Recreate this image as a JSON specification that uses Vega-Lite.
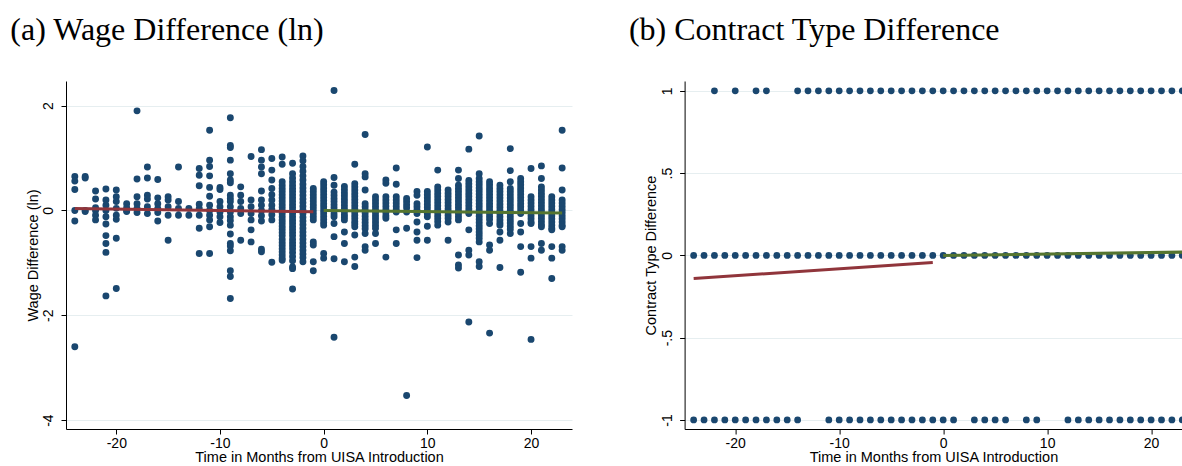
{
"$schema": "https://vega.github.io/schema/vega-lite/v6.json",
"padding": {"left": 10, "top": 14, "right": 0, "bottom": 0},
"autosize": {"type": "pad"},
"background": "white",
"bounds": "flush",
"spacing": 112.6,
"config": {
  "view": {"stroke": null},
  "axis": {"labelFont": "Liberation Sans", "titleFont": "Liberation Sans", "labelFontSize": 14, "titleFontSize": 14.5, "labelColor": "#000", "titleColor": "#000", "titleFontWeight": "normal", "domainColor": "#000", "domainWidth": 1, "tickColor": "#000", "tickSize": 5, "tickWidth": 1, "gridColor": "#e6eef0", "gridWidth": 1, "labelFlush": false},
  "title": {"font": "Liberation Serif", "fontSize": 32, "fontWeight": "normal", "anchor": "start", "frame": "group", "color": "#000", "dx": -55.7, "offset": 34, "baseline": "alphabetic"}
},
"datasets": {
"wage": [
{"t":-24,"w":0.65},{"t":-24,"w":0.56},{"t":-24,"w":0.40},{"t":-24,"w":0},{"t":-24,"w":-0.20},{"t":-24,"w":-2.60},
{"t":-23,"w":0.65},{"t":-23,"w":0.62},{"t":-23,"w":0},{"t":-23,"w":-0.02},
{"t":-22,"w":0.37},{"t":-22,"w":0.22},{"t":-22,"w":0.05},{"t":-22,"w":0},{"t":-22,"w":-0.09},{"t":-22,"w":-0.18},
{"t":-21,"w":0.41},{"t":-21,"w":0.20},{"t":-21,"w":0.10},{"t":-21,"w":0},{"t":-21,"w":-0.12},{"t":-21,"w":-0.26},{"t":-21,"w":-0.48},{"t":-21,"w":-0.63},{"t":-21,"w":-0.80},{"t":-21,"w":-1.63},
{"t":-20,"w":0.39},{"t":-20,"w":0.26},{"t":-20,"w":0.17},{"t":-20,"w":0.04},{"t":-20,"w":-0.09},{"t":-20,"w":-0.17},{"t":-20,"w":-0.53},{"t":-20,"w":-1.49},
{"t":-19,"w":0.13},{"t":-19,"w":0.05},{"t":-19,"w":0},{"t":-19,"w":-0.02},
{"t":-18,"w":1.90},{"t":-18,"w":0.60},{"t":-18,"w":0.26},{"t":-18,"w":0.13},{"t":-18,"w":0.04},{"t":-18,"w":-0.04},
{"t":-17,"w":0.83},{"t":-17,"w":0.62},{"t":-17,"w":0.29},{"t":-17,"w":0.22},{"t":-17,"w":0.07},{"t":-17,"w":-0.06},
{"t":-16,"w":0.59},{"t":-16,"w":0.24},{"t":-16,"w":0.13},{"t":-16,"w":0.04},{"t":-16,"w":-0.04},{"t":-16,"w":-0.20},
{"t":-15,"w":0.26},{"t":-15,"w":0.20},{"t":-15,"w":0.07},{"t":-15,"w":-0.09},{"t":-15,"w":-0.57},
{"t":-14,"w":0.83},{"t":-14,"w":0.17},{"t":-14,"w":0.04},{"t":-14,"w":-0.09},
{"t":-13,"w":0.04},{"t":-13,"w":-0.09},
{"t":-12,"w":0.80},{"t":-12,"w":0.67},{"t":-12,"w":0.47},{"t":-12,"w":0.12},{"t":-12,"w":0.04},{"t":-12,"w":-0.09},{"t":-12,"w":-0.34},{"t":-12,"w":-0.82},
{"t":-11,"w":1.53},{"t":-11,"w":0.96},{"t":-11,"w":0.84},{"t":-11,"w":0.66},{"t":-11,"w":0.44},{"t":-11,"w":0.27},{"t":-11,"w":0.10},{"t":-11,"w":0},{"t":-11,"w":-0.09},{"t":-11,"w":-0.18},{"t":-11,"w":-0.31},{"t":-11,"w":-0.82},
{"t":-10,"w":0.44},{"t":-10,"w":0.40},{"t":-10,"w":0.17},{"t":-10,"w":0.07},{"t":-10,"w":-0.03},{"t":-10,"w":-0.12},{"t":-10,"w":-0.23},
{"t":-9,"w":1.77},{"t":-9,"w":1.24},{"t":-9,"w":1.20},{"t":-9,"w":0.96},{"t":-9,"w":0.70},{"t":-9,"w":0.58},{"t":-9,"w":0.53},{"t":-9,"w":0.29},{"t":-9,"w":0.23},{"t":-9,"w":0.17},{"t":-9,"w":0.07},{"t":-9,"w":-0.03},{"t":-9,"w":-0.12},{"t":-9,"w":-0.19},{"t":-9,"w":-0.28},{"t":-9,"w":-0.45},{"t":-9,"w":-0.63},{"t":-9,"w":-0.68},{"t":-9,"w":-0.77},{"t":-9,"w":-1.15},{"t":-9,"w":-1.26},{"t":-9,"w":-1.68},
{"t":-8,"w":0.45},{"t":-8,"w":0.29},{"t":-8,"w":0.17},{"t":-8,"w":0.04},{"t":-8,"w":-0.06},{"t":-8,"w":-0.57},
{"t":-7,"w":1.03},{"t":-7,"w":0.20},{"t":-7,"w":0.07},{"t":-7,"w":-0.06},{"t":-7,"w":-0.18},{"t":-7,"w":-0.37},{"t":-7,"w":-0.60},
{"t":-6,"w":1.16},{"t":-6,"w":0.96},{"t":-6,"w":0.83},{"t":-6,"w":0.70},{"t":-6,"w":0.37},{"t":-6,"w":0.20},{"t":-6,"w":0.10},{"t":-6,"w":0},{"t":-6,"w":-0.10},{"t":-6,"w":-0.20},{"t":-6,"w":-0.74},{"t":-6,"w":-0.79},
{"t":-5,"w":0.99},{"t":-5,"w":0.77},{"t":-5,"w":0.58},{"t":-5,"w":0.42},{"t":-5,"w":0.30},{"t":-5,"w":0.20},{"t":-5,"w":0.10},{"t":-5,"w":0.02},{"t":-5,"w":-0.08},{"t":-5,"w":-0.18},{"t":-5,"w":-0.99},
{"t":-4,"w":1.02},{"t":-4,"w":0.88},{"t":-4,"w":0.55},{"t":-4,"w":0.48},{"t":-4,"w":0.42},{"t":-4,"w":0.36},{"t":-4,"w":0.30},{"t":-4,"w":0.24},{"t":-4,"w":0.18},{"t":-4,"w":0.12},{"t":-4,"w":0.06},{"t":-4,"w":0},{"t":-4,"w":-0.06},{"t":-4,"w":-0.12},{"t":-4,"w":-0.18},{"t":-4,"w":-0.24},{"t":-4,"w":-0.30},{"t":-4,"w":-0.36},{"t":-4,"w":-0.42},{"t":-4,"w":-0.48},{"t":-4,"w":-0.55},{"t":-4,"w":-0.61},{"t":-4,"w":-0.67},{"t":-4,"w":-0.73},{"t":-4,"w":-0.79},{"t":-4,"w":-0.85},{"t":-4,"w":-0.91},{"t":-4,"w":-0.95},
{"t":-3,"w":0.90},{"t":-3,"w":0.70},{"t":-3,"w":0.62},{"t":-3,"w":0.55},{"t":-3,"w":0.48},{"t":-3,"w":0.42},{"t":-3,"w":0.36},{"t":-3,"w":0.30},{"t":-3,"w":0.24},{"t":-3,"w":0.18},{"t":-3,"w":0.12},{"t":-3,"w":0.06},{"t":-3,"w":0},{"t":-3,"w":-0.06},{"t":-3,"w":-0.12},{"t":-3,"w":-0.18},{"t":-3,"w":-0.24},{"t":-3,"w":-0.30},{"t":-3,"w":-0.36},{"t":-3,"w":-0.42},{"t":-3,"w":-0.48},{"t":-3,"w":-0.55},{"t":-3,"w":-0.61},{"t":-3,"w":-0.67},{"t":-3,"w":-0.73},{"t":-3,"w":-0.80},{"t":-3,"w":-0.88},{"t":-3,"w":-0.96},{"t":-3,"w":-1.08},{"t":-3,"w":-1.11},{"t":-3,"w":-1.50},
{"t":-2,"w":1.04},{"t":-2,"w":0.95},{"t":-2,"w":0.84},{"t":-2,"w":0.75},{"t":-2,"w":0.66},{"t":-2,"w":0.58},{"t":-2,"w":0.50},{"t":-2,"w":0.43},{"t":-2,"w":0.36},{"t":-2,"w":0.29},{"t":-2,"w":0.22},{"t":-2,"w":0.15},{"t":-2,"w":0.08},{"t":-2,"w":0.01},{"t":-2,"w":-0.06},{"t":-2,"w":-0.13},{"t":-2,"w":-0.20},{"t":-2,"w":-0.27},{"t":-2,"w":-0.34},{"t":-2,"w":-0.41},{"t":-2,"w":-0.48},{"t":-2,"w":-0.55},{"t":-2,"w":-0.62},{"t":-2,"w":-0.69},{"t":-2,"w":-0.76},{"t":-2,"w":-0.83},{"t":-2,"w":-0.90},{"t":-2,"w":-0.98},
{"t":-1,"w":0.42},{"t":-1,"w":0.36},{"t":-1,"w":0.30},{"t":-1,"w":0.24},{"t":-1,"w":0.18},{"t":-1,"w":0.12},{"t":-1,"w":0.06},{"t":-1,"w":0},{"t":-1,"w":-0.06},{"t":-1,"w":-0.12},{"t":-1,"w":-0.18},{"t":-1,"w":-0.60},{"t":-1,"w":-0.66},{"t":-1,"w":-0.98},{"t":-1,"w":-1.15},
{"t":0,"w":0.55},{"t":0,"w":0.49},{"t":0,"w":0.43},{"t":0,"w":0.37},{"t":0,"w":0.31},{"t":0,"w":0.25},{"t":0,"w":0.19},{"t":0,"w":0.13},{"t":0,"w":0.07},{"t":0,"w":0.01},{"t":0,"w":-0.05},{"t":0,"w":-0.11},{"t":0,"w":-0.17},{"t":0,"w":-0.23},{"t":0,"w":-0.28},{"t":0,"w":-0.82},{"t":0,"w":-0.91},
{"t":1,"w":2.29},{"t":1,"w":0.63},{"t":1,"w":0.48},{"t":1,"w":0.35},{"t":1,"w":0.29},{"t":1,"w":0.23},{"t":1,"w":0.17},{"t":1,"w":0.11},{"t":1,"w":0.05},{"t":1,"w":-0.01},{"t":1,"w":-0.07},{"t":1,"w":-0.12},{"t":1,"w":-0.25},{"t":1,"w":-0.50},{"t":1,"w":-0.92},{"t":1,"w":-2.42},
{"t":2,"w":0.46},{"t":2,"w":0.40},{"t":2,"w":0.34},{"t":2,"w":0.28},{"t":2,"w":0.22},{"t":2,"w":0.16},{"t":2,"w":0.10},{"t":2,"w":0.04},{"t":2,"w":-0.02},{"t":2,"w":-0.08},{"t":2,"w":-0.13},{"t":2,"w":-0.18},{"t":2,"w":-0.41},{"t":2,"w":-0.63},{"t":2,"w":-0.98},
{"t":3,"w":0.88},{"t":3,"w":0.51},{"t":3,"w":0.45},{"t":3,"w":0.39},{"t":3,"w":0.33},{"t":3,"w":0.27},{"t":3,"w":0.21},{"t":3,"w":0.15},{"t":3,"w":0.09},{"t":3,"w":0.03},{"t":3,"w":-0.03},{"t":3,"w":-0.09},{"t":3,"w":-0.15},{"t":3,"w":-0.21},{"t":3,"w":-0.26},{"t":3,"w":-0.31},{"t":3,"w":-0.47},{"t":3,"w":-0.89},{"t":3,"w":-1.07},
{"t":4,"w":1.45},{"t":4,"w":0.70},{"t":4,"w":0.64},{"t":4,"w":0.39},{"t":4,"w":0.13},{"t":4,"w":0.07},{"t":4,"w":0.01},{"t":4,"w":-0.05},{"t":4,"w":-0.11},{"t":4,"w":-0.17},{"t":4,"w":-0.23},{"t":4,"w":-0.29},{"t":4,"w":-0.35},{"t":4,"w":-0.44},{"t":4,"w":-0.69},{"t":4,"w":-0.76},
{"t":5,"w":0.26},{"t":5,"w":0.20},{"t":5,"w":0.14},{"t":5,"w":0.08},{"t":5,"w":0.02},{"t":5,"w":-0.04},{"t":5,"w":-0.10},{"t":5,"w":-0.16},{"t":5,"w":-0.22},{"t":5,"w":-0.28},{"t":5,"w":-0.34},{"t":5,"w":-0.44},{"t":5,"w":-0.63},
{"t":6,"w":0.58},{"t":6,"w":0.52},{"t":6,"w":0.26},{"t":6,"w":0.20},{"t":6,"w":0.14},{"t":6,"w":0.08},{"t":6,"w":0.02},{"t":6,"w":-0.04},{"t":6,"w":-0.10},{"t":6,"w":-0.15},{"t":6,"w":-0.89},
{"t":7,"w":0.81},{"t":7,"w":0.50},{"t":7,"w":0.26},{"t":7,"w":0.20},{"t":7,"w":0.14},{"t":7,"w":0.08},{"t":7,"w":0.02},{"t":7,"w":-0.03},{"t":7,"w":-0.37},{"t":7,"w":-0.63},
{"t":8,"w":0.23},{"t":8,"w":0.17},{"t":8,"w":0.11},{"t":8,"w":0.05},{"t":8,"w":-0.03},{"t":8,"w":-0.34},{"t":8,"w":-3.53},
{"t":9,"w":0.36},{"t":9,"w":0.29},{"t":9,"w":0.13},{"t":9,"w":0.07},{"t":9,"w":0.01},{"t":9,"w":-0.06},{"t":9,"w":-0.22},{"t":9,"w":-0.41},{"t":9,"w":-0.57},{"t":9,"w":-0.90},
{"t":10,"w":1.21},{"t":10,"w":0.36},{"t":10,"w":0.30},{"t":10,"w":0.24},{"t":10,"w":0.18},{"t":10,"w":0.12},{"t":10,"w":0.06},{"t":10,"w":0},{"t":10,"w":-0.06},{"t":10,"w":-0.12},{"t":10,"w":-0.30},{"t":10,"w":-0.57},
{"t":11,"w":0.77},{"t":11,"w":0.45},{"t":11,"w":0.39},{"t":11,"w":0.33},{"t":11,"w":0.27},{"t":11,"w":0.21},{"t":11,"w":0.15},{"t":11,"w":0.09},{"t":11,"w":0.03},{"t":11,"w":-0.03},{"t":11,"w":-0.09},{"t":11,"w":-0.15},{"t":11,"w":-0.21},{"t":11,"w":-0.28},
{"t":12,"w":0.39},{"t":12,"w":0.33},{"t":12,"w":0.27},{"t":12,"w":0.21},{"t":12,"w":0.15},{"t":12,"w":0.09},{"t":12,"w":0.03},{"t":12,"w":-0.03},{"t":12,"w":-0.09},{"t":12,"w":-0.15},{"t":12,"w":-0.22},{"t":12,"w":-0.57},
{"t":13,"w":0.77},{"t":13,"w":0.61},{"t":13,"w":0.48},{"t":13,"w":0.42},{"t":13,"w":0.36},{"t":13,"w":0.30},{"t":13,"w":0.24},{"t":13,"w":0.18},{"t":13,"w":0.12},{"t":13,"w":0.06},{"t":13,"w":0},{"t":13,"w":-0.06},{"t":13,"w":-0.12},{"t":13,"w":-0.18},{"t":13,"w":-0.85},{"t":13,"w":-1.04},{"t":13,"w":-1.10},
{"t":14,"w":1.17},{"t":14,"w":0.57},{"t":14,"w":0.51},{"t":14,"w":0.45},{"t":14,"w":0.39},{"t":14,"w":0.33},{"t":14,"w":0.27},{"t":14,"w":0.21},{"t":14,"w":0.15},{"t":14,"w":0.09},{"t":14,"w":0.03},{"t":14,"w":-0.03},{"t":14,"w":-0.06},{"t":14,"w":-0.37},{"t":14,"w":-0.76},{"t":14,"w":-0.85},{"t":14,"w":-2.13},
{"t":15,"w":1.42},{"t":15,"w":0.70},{"t":15,"w":0.61},{"t":15,"w":0.55},{"t":15,"w":0.49},{"t":15,"w":0.43},{"t":15,"w":0.37},{"t":15,"w":0.31},{"t":15,"w":0.25},{"t":15,"w":0.19},{"t":15,"w":0.13},{"t":15,"w":0.07},{"t":15,"w":0.01},{"t":15,"w":-0.05},{"t":15,"w":-0.11},{"t":15,"w":-0.17},{"t":15,"w":-0.23},{"t":15,"w":-0.29},{"t":15,"w":-0.35},{"t":15,"w":-0.41},{"t":15,"w":-0.47},{"t":15,"w":-0.53},{"t":15,"w":-0.60},{"t":15,"w":-0.98},{"t":15,"w":-1.07},
{"t":16,"w":0.55},{"t":16,"w":0.49},{"t":16,"w":0.43},{"t":16,"w":0.37},{"t":16,"w":0.31},{"t":16,"w":0.25},{"t":16,"w":0.19},{"t":16,"w":0.13},{"t":16,"w":0.07},{"t":16,"w":0.01},{"t":16,"w":-0.05},{"t":16,"w":-0.11},{"t":16,"w":-0.17},{"t":16,"w":-0.25},{"t":16,"w":-0.66},{"t":16,"w":-0.76},{"t":16,"w":-2.34},
{"t":17,"w":0.48},{"t":17,"w":0.42},{"t":17,"w":0.36},{"t":17,"w":0.30},{"t":17,"w":0.24},{"t":17,"w":0.18},{"t":17,"w":0.12},{"t":17,"w":0.06},{"t":17,"w":0},{"t":17,"w":-0.06},{"t":17,"w":-0.12},{"t":17,"w":-0.18},{"t":17,"w":-0.24},{"t":17,"w":-0.28},{"t":17,"w":-0.41},{"t":17,"w":-0.57},{"t":17,"w":-1.09},
{"t":18,"w":1.18},{"t":18,"w":0.76},{"t":18,"w":0.55},{"t":18,"w":0.42},{"t":18,"w":0.36},{"t":18,"w":0.30},{"t":18,"w":0.24},{"t":18,"w":0.18},{"t":18,"w":0.12},{"t":18,"w":0.06},{"t":18,"w":0},{"t":18,"w":-0.06},{"t":18,"w":-0.12},{"t":18,"w":-0.18},{"t":18,"w":-0.24},{"t":18,"w":-0.30},{"t":18,"w":-0.36},{"t":18,"w":-0.44},
{"t":19,"w":0.61},{"t":19,"w":0.55},{"t":19,"w":0.49},{"t":19,"w":0.43},{"t":19,"w":0.37},{"t":19,"w":0.31},{"t":19,"w":0.25},{"t":19,"w":0.19},{"t":19,"w":0.13},{"t":19,"w":0.07},{"t":19,"w":0.01},{"t":19,"w":-0.06},{"t":19,"w":-0.25},{"t":19,"w":-0.41},{"t":19,"w":-0.69},{"t":19,"w":-1.18},
{"t":20,"w":0.80},{"t":20,"w":0.26},{"t":20,"w":0.20},{"t":20,"w":0.14},{"t":20,"w":0.08},{"t":20,"w":0.02},{"t":20,"w":-0.04},{"t":20,"w":-0.10},{"t":20,"w":-0.16},{"t":20,"w":-0.22},{"t":20,"w":-0.25},{"t":20,"w":-0.69},{"t":20,"w":-0.91},{"t":20,"w":-2.46},
{"t":21,"w":0.85},{"t":21,"w":0.61},{"t":21,"w":0.45},{"t":21,"w":0.39},{"t":21,"w":0.33},{"t":21,"w":0.27},{"t":21,"w":0.21},{"t":21,"w":0.15},{"t":21,"w":0.09},{"t":21,"w":0.03},{"t":21,"w":-0.03},{"t":21,"w":-0.09},{"t":21,"w":-0.15},{"t":21,"w":-0.21},{"t":21,"w":-0.27},{"t":21,"w":-0.31},{"t":21,"w":-0.63},{"t":21,"w":-0.76},
{"t":22,"w":0.26},{"t":22,"w":0.20},{"t":22,"w":0.14},{"t":22,"w":0.08},{"t":22,"w":0.02},{"t":22,"w":-0.04},{"t":22,"w":-0.10},{"t":22,"w":-0.16},{"t":22,"w":-0.22},{"t":22,"w":-0.28},{"t":22,"w":-0.34},{"t":22,"w":-0.37},{"t":22,"w":-0.69},{"t":22,"w":-0.91},{"t":22,"w":-1.30},
{"t":23,"w":1.53},{"t":23,"w":0.81},{"t":23,"w":0.39},{"t":23,"w":0.20},{"t":23,"w":0.14},{"t":23,"w":0.08},{"t":23,"w":0.02},{"t":23,"w":-0.04},{"t":23,"w":-0.10},{"t":23,"w":-0.16},{"t":23,"w":-0.22},{"t":23,"w":-0.28},{"t":23,"w":-0.31},{"t":23,"w":-0.69},{"t":23,"w":-0.76}
],
"wageFit": [
{"t":-24,"w":0.038,"s":"pre"},{"t":-1,"w":-0.027,"s":"pre"},
{"t":0,"w":0.0,"s":"post"},{"t":23,"w":-0.05,"s":"post"}
],
"contract": [
{"t":-22,"c":1},{"t":-20,"c":1},{"t":-18,"c":1},{"t":-17,"c":1},{"t":-14,"c":1},{"t":-13,"c":1},{"t":-12,"c":1},{"t":-11,"c":1},{"t":-10,"c":1},{"t":-9,"c":1},{"t":-8,"c":1},{"t":-7,"c":1},{"t":-6,"c":1},{"t":-5,"c":1},{"t":-4,"c":1},{"t":-3,"c":1},{"t":-2,"c":1},{"t":-1,"c":1},{"t":0,"c":1},{"t":1,"c":1},{"t":2,"c":1},{"t":3,"c":1},{"t":4,"c":1},{"t":5,"c":1},{"t":6,"c":1},{"t":7,"c":1},{"t":8,"c":1},{"t":9,"c":1},{"t":10,"c":1},{"t":11,"c":1},{"t":12,"c":1},{"t":13,"c":1},{"t":14,"c":1},{"t":15,"c":1},{"t":16,"c":1},{"t":17,"c":1},{"t":18,"c":1},{"t":19,"c":1},{"t":20,"c":1},{"t":21,"c":1},{"t":22,"c":1},{"t":23,"c":1},
{"t":-24,"c":0},{"t":-23,"c":0},{"t":-22,"c":0},{"t":-21,"c":0},{"t":-20,"c":0},{"t":-19,"c":0},{"t":-18,"c":0},{"t":-17,"c":0},{"t":-16,"c":0},{"t":-15,"c":0},{"t":-14,"c":0},{"t":-13,"c":0},{"t":-12,"c":0},{"t":-11,"c":0},{"t":-10,"c":0},{"t":-9,"c":0},{"t":-8,"c":0},{"t":-7,"c":0},{"t":-6,"c":0},{"t":-5,"c":0},{"t":-4,"c":0},{"t":-3,"c":0},{"t":-2,"c":0},{"t":-1,"c":0},{"t":0,"c":0},{"t":1,"c":0},{"t":2,"c":0},{"t":3,"c":0},{"t":4,"c":0},{"t":5,"c":0},{"t":6,"c":0},{"t":7,"c":0},{"t":8,"c":0},{"t":9,"c":0},{"t":10,"c":0},{"t":11,"c":0},{"t":12,"c":0},{"t":13,"c":0},{"t":14,"c":0},{"t":15,"c":0},{"t":16,"c":0},{"t":17,"c":0},{"t":18,"c":0},{"t":19,"c":0},{"t":20,"c":0},{"t":21,"c":0},{"t":22,"c":0},{"t":23,"c":0},
{"t":-24,"c":-1},{"t":-23,"c":-1},{"t":-22,"c":-1},{"t":-21,"c":-1},{"t":-20,"c":-1},{"t":-19,"c":-1},{"t":-18,"c":-1},{"t":-17,"c":-1},{"t":-16,"c":-1},{"t":-15,"c":-1},{"t":-14,"c":-1},{"t":-11,"c":-1},{"t":-10,"c":-1},{"t":-9,"c":-1},{"t":-8,"c":-1},{"t":-7,"c":-1},{"t":-6,"c":-1},{"t":-5,"c":-1},{"t":-4,"c":-1},{"t":-3,"c":-1},{"t":-2,"c":-1},{"t":-1,"c":-1},{"t":0,"c":-1},{"t":1,"c":-1},{"t":3,"c":-1},{"t":4,"c":-1},{"t":5,"c":-1},{"t":6,"c":-1},{"t":8,"c":-1},{"t":9,"c":-1},{"t":12,"c":-1},{"t":13,"c":-1},{"t":14,"c":-1},{"t":15,"c":-1},{"t":16,"c":-1},{"t":17,"c":-1},{"t":18,"c":-1},{"t":19,"c":-1},{"t":20,"c":-1},{"t":21,"c":-1},{"t":22,"c":-1},{"t":23,"c":-1}
],
"contractFit": [
{"t":-24,"c":-0.14,"s":"pre"},{"t":-1,"c":-0.043,"s":"pre"},
{"t":0,"c":0.0,"s":"post"},{"t":23,"c":0.02,"s":"post"}
]
},
"hconcat": [
{
  "title": {"text": "(a) Wage Difference (ln)"},
  "width": 506, "height": 348,
  "encoding": {
    "x": {"field": "t", "type": "quantitative", "scale": {"domain": [-24.85, 23.95], "nice": false, "zero": false},
      "axis": {"title": "Time in Months from UISA Introduction", "values": [-20, -10, 0, 10, 20], "grid": false, "labelPadding": 2, "titlePadding": 0, "labelExpr": "toString(datum.value)"}},
    "y": {"field": "w", "type": "quantitative", "scale": {"domain": [-4.17, 2.47], "nice": false, "zero": false},
      "axis": {"title": "Wage Difference (ln)", "values": [-4, -2, 0, 2], "grid": true, "labelAngle": 270, "labelAlign": "center", "labelBaseline": "middle", "labelPadding": 13, "labelExpr": "toString(datum.value)", "titleAngle": 270, "titleX": -33, "titleY": 174, "titleAlign": "center", "titleBaseline": "middle"}}
  },
  "layer": [
    {"data": {"name": "wage"}, "mark": {"type": "circle", "size": 48, "color": "#1a476f", "opacity": 1}},
    {"data": {"name": "wageFit"}, "mark": {"type": "line", "strokeWidth": 3},
     "encoding": {"color": {"field": "s", "type": "nominal", "scale": {"domain": ["pre", "post"], "range": ["#90353b", "#55752f"]}, "legend": null}}}
  ]
},
{
  "title": {"text": "(b) Contract Type Difference"},
  "width": 497.7, "height": 348,
  "encoding": {
    "x": {"field": "t", "type": "quantitative", "scale": {"domain": [-24.87, 23.0], "nice": false, "zero": false},
      "axis": {"title": "Time in Months from UISA Introduction", "values": [-20, -10, 0, 10, 20], "grid": false, "labelPadding": 2, "titlePadding": 0, "labelExpr": "toString(datum.value)"}},
    "y": {"field": "c", "type": "quantitative", "scale": {"domain": [-1.055, 1.06], "nice": false, "zero": false},
      "axis": {"title": "Contract Type Difference", "values": [-1, -0.5, 0, 0.5, 1], "grid": true, "labelAngle": 270, "labelAlign": "center", "labelBaseline": "middle", "labelPadding": 12, "labelExpr": "replace(toString(datum.value), '0.', '.')", "titleAngle": 270, "titleX": -33, "titleY": 174, "titleAlign": "center", "titleBaseline": "middle"}}
  },
  "layer": [
    {"data": {"name": "contract"}, "mark": {"type": "circle", "size": 46, "color": "#1a476f", "opacity": 1, "clip": true}},
    {"data": {"name": "contractFit"}, "mark": {"type": "line", "strokeWidth": 3, "clip": true},
     "encoding": {"color": {"field": "s", "type": "nominal", "scale": {"domain": ["pre", "post"], "range": ["#90353b", "#55752f"]}, "legend": null}}}
  ]
}
]
}
